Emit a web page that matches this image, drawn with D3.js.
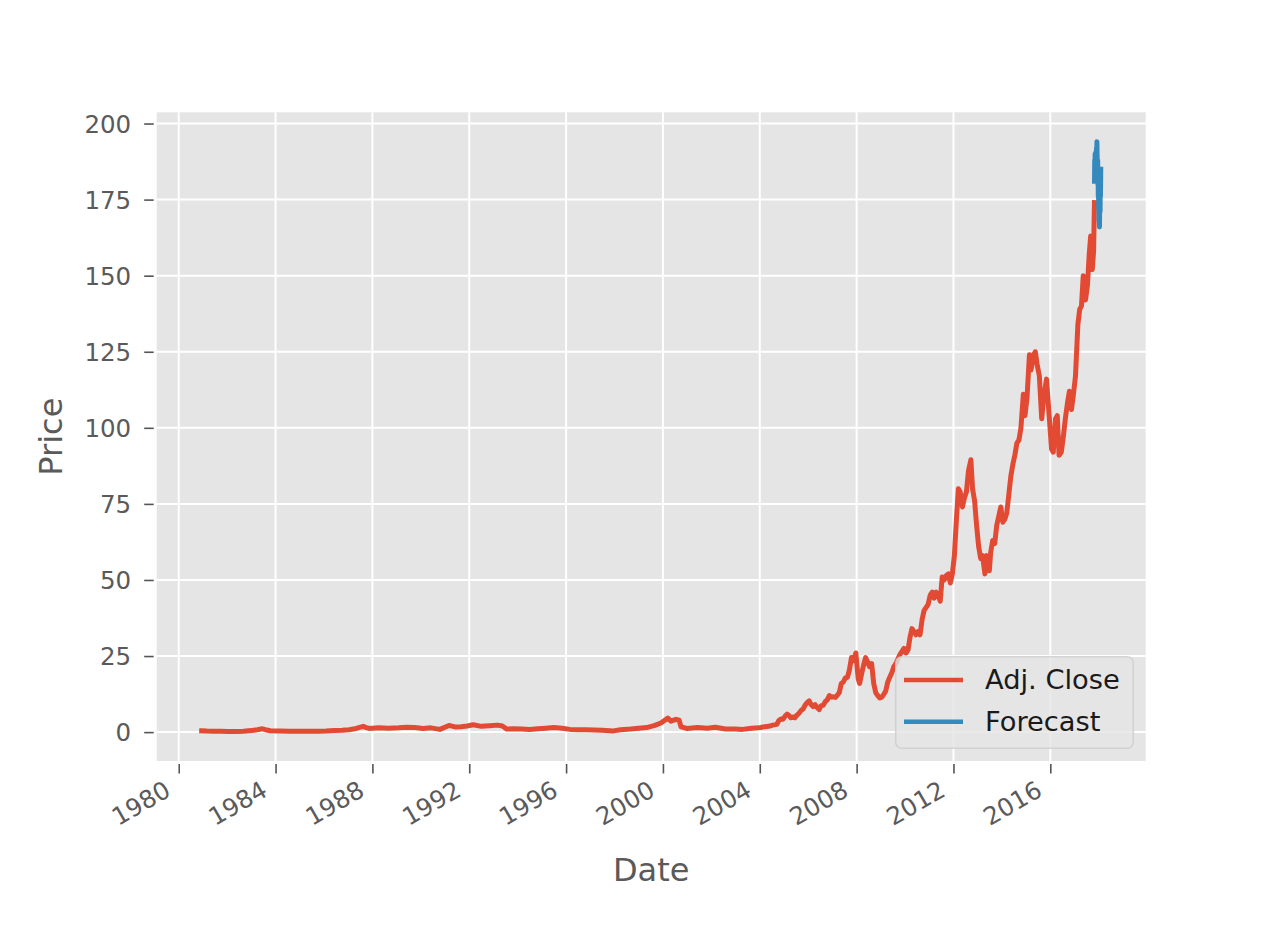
<!DOCTYPE html>
<html>
<head>
<meta charset="utf-8">
<script src="https://cdn.jsdelivr.net/npm/d3@7"></script>
<style>
  html, body { margin: 0; padding: 0; background: #ffffff; }
  svg { display: block; font-family: "DejaVu Sans", sans-serif; }
</style>
</head>
<body>
<svg id="chart" width="1268" height="950"></svg>
<script>
// ---------- data ----------
const closeDates = [
  "1980-12-12","1981-03-01","1981-06-01","1981-10-01","1982-01-15","1982-06-01","1982-09-01","1983-01-01","1983-04-01","1983-06-15","1983-08-01","1983-10-15",
  "1984-03-01","1984-08-01","1985-01-01","1985-06-01","1985-10-01","1986-02-01","1986-06-01","1986-10-01","1987-01-15","1987-05-01","1987-08-15","1987-10-01","1987-11-15",
  "1988-04-01","1988-09-01","1989-02-01","1989-06-01","1989-10-01","1990-02-01","1990-06-01","1990-10-15","1991-03-01","1991-06-01","1991-09-01","1991-12-01",
  "1992-03-01","1992-07-01","1992-11-01","1993-03-01","1993-05-15","1993-07-20","1993-11-01","1994-03-01","1994-07-01","1994-11-01","1995-03-01","1995-07-01","1995-11-01",
  "1996-03-01","1996-07-01","1996-11-01","1997-03-01","1997-07-01","1997-12-15","1998-04-01","1998-09-01","1999-01-01","1999-05-01","1999-09-01","1999-12-01",
  "2000-03-15","2000-05-01","2000-07-15","2000-09-01","2000-10-01","2001-01-01","2001-06-01","2001-11-01","2002-03-01","2002-08-01","2003-01-01","2003-04-15","2003-09-01","2003-12-01",
  "2004-01-15","2004-03-15","2004-05-15","2004-07-15","2004-09-15","2004-10-15","2004-11-15","2004-12-15",
  "2005-01-15","2005-02-15","2005-03-15","2005-04-15","2005-05-15","2005-06-15","2005-07-15","2005-08-15","2005-09-15","2005-10-15","2005-11-15","2005-12-15",
  "2006-01-15","2006-02-15","2006-03-15","2006-04-15","2006-05-15","2006-06-15","2006-07-15","2006-08-15","2006-09-15","2006-10-15","2006-11-15","2006-12-15",
  "2007-01-15","2007-02-15","2007-03-15","2007-04-15","2007-05-15","2007-06-15","2007-07-15","2007-08-15","2007-09-15","2007-10-15","2007-11-15","2007-12-20",
  "2008-01-25","2008-02-15","2008-03-15","2008-04-15","2008-05-15","2008-06-15","2008-07-15","2008-08-15","2008-09-15","2008-10-15","2008-11-15","2008-12-15",
  "2009-01-15","2009-02-15","2009-03-15","2009-04-15","2009-05-15","2009-06-15","2009-07-15","2009-08-15","2009-09-15","2009-10-15","2009-11-15","2009-12-15",
  "2010-01-15","2010-02-15","2010-03-15","2010-04-15","2010-05-15","2010-06-15","2010-07-15","2010-08-15","2010-09-15","2010-10-15","2010-11-15","2010-12-15",
  "2011-01-15","2011-02-15","2011-03-15","2011-04-15","2011-05-15","2011-06-15","2011-07-15","2011-08-15","2011-09-15","2011-10-15","2011-11-15","2011-12-15",
  "2012-01-15","2012-02-15","2012-03-15","2012-04-10","2012-05-15","2012-06-15","2012-07-15","2012-08-15","2012-09-20","2012-10-15","2012-11-15","2012-12-15",
  "2013-01-15","2013-02-15","2013-03-15","2013-04-20","2013-05-15","2013-06-25","2013-07-15","2013-08-15","2013-09-15","2013-10-15","2013-11-15","2013-12-15",
  "2014-01-15","2014-02-15","2014-03-15","2014-04-15","2014-05-15","2014-06-15","2014-07-15","2014-08-15","2014-09-15","2014-10-15","2014-11-20","2014-12-15",
  "2015-01-15","2015-02-20","2015-03-15","2015-04-25","2015-05-20","2015-06-15","2015-07-20","2015-08-24","2015-09-15","2015-10-15","2015-11-05","2015-12-15",
  "2016-01-20","2016-02-15","2016-03-20","2016-04-15","2016-05-12","2016-06-15","2016-07-15","2016-08-15","2016-09-15","2016-10-15","2016-11-15","2016-12-15",
  "2017-01-15","2017-02-20","2017-03-20","2017-04-15","2017-05-12","2017-06-15","2017-07-15","2017-08-10","2017-09-01","2017-09-25","2017-10-15","2017-10-28"
];
const closeValues = [
  0.42,0.35,0.32,0.25,0.22,0.2,0.25,0.5,0.8,1.1,0.8,0.45,
  0.35,0.3,0.3,0.25,0.3,0.35,0.5,0.6,0.8,1.2,1.9,1.5,1.2,
  1.4,1.3,1.4,1.6,1.5,1.2,1.4,0.9,2.2,1.7,1.8,2.0,
  2.4,1.9,2.1,2.3,2.0,1.0,1.1,1.0,0.9,1.1,1.3,1.5,1.3,
  0.9,0.8,0.8,0.7,0.6,0.4,0.8,1.0,1.3,1.5,2.2,3.0,
  4.6,3.6,4.2,3.9,1.7,1.2,1.5,1.3,1.6,1.0,1.0,0.9,1.3,1.4,
  1.5,1.8,1.9,2.3,2.6,3.8,4.3,4.2,
  5.2,5.9,5.5,4.7,5.0,4.7,5.6,6.2,7.1,7.6,8.9,9.7,
  10.3,9.0,8.4,9.0,8.1,7.4,8.7,8.8,10.0,10.6,12.0,11.5,
  11.6,11.4,12.1,13.0,16.0,16.5,17.8,18.0,20.5,24.5,23.5,26.0,
  17.5,16.0,19.0,22.0,24.5,23.0,21.5,22.5,16.0,13.0,12.0,11.2,
  11.5,12.5,13.5,16.5,18.0,19.5,21.5,22.5,24.0,25.5,26.5,27.5,
  26.0,27.0,31.0,34.0,33.0,32.0,33.0,32.0,37.0,40.0,41.0,42.0,
  45.0,46.0,44.0,46.0,45.0,43.0,51.0,50.0,51.5,52.0,49.0,52.0,
  58.0,70.0,80.0,79.0,74.0,77.0,79.0,86.0,89.5,80.0,76.0,68.0,
  61.0,57.0,58.0,52.0,58.0,53.0,59.0,63.0,62.0,68.0,71.0,74.0,
  69.0,70.0,72.0,78.0,84.0,88.0,91.0,95.0,96.0,100.0,111.0,104.0,
  110.0,124.0,119.0,124.0,125.0,121.0,117.0,103.0,108.0,113.0,116.0,104.0,
  93.0,92.0,103.0,104.0,91.0,92.0,97.0,103.0,108.0,112.0,106.0,111.0,
  117.0,134.0,139.0,140.0,150.0,142.0,147.0,157.0,163.0,152.0,158.0,174.0
];
const forecastDates = [
  "2017-10-29","2017-11-01","2017-11-04","2017-11-07","2017-11-10","2017-11-13","2017-11-16","2017-11-19","2017-11-22","2017-11-25","2017-11-28",
  "2017-12-01","2017-12-04","2017-12-07","2017-12-10","2017-12-13","2017-12-16","2017-12-19","2017-12-22","2017-12-25","2017-12-28","2017-12-31",
  "2018-01-03","2018-01-06","2018-01-09","2018-01-12","2018-01-15","2018-01-18","2018-01-21","2018-01-24","2018-01-27","2018-01-31"
];
const forecastValues = [
  181,188,184,190,186,183,189,185,191,187,192,
  188,194,190,185,183,188,180,184,176,181,172,
  178,168,175,166,174,179,171,182,176,185
];
const xTickYears = [1980,1984,1988,1992,1996,2000,2004,2008,2012,2016];
const yTickValues = [0,25,50,75,100,125,150,175,200];
const seriesNames = ["Adj. Close","Forecast"];
const seriesColors = ["#E24A33","#348ABD"];

// ---------- layout ----------
const plot = {left: 156.7, right: 1145.7, top: 112.3, bottom: 761};
const parse = d3.timeParse("%Y-%m-%d");
const closeData = closeDates.map((d,i) => ({date: parse(d), value: closeValues[i]}));
const forecastData = forecastDates.map((d,i) => ({date: parse(d), value: forecastValues[i]}));
const all = closeData.concat(forecastData);

const [tMin, tMax] = d3.extent(all, d => d.date);
const tPad = (tMax - tMin) * 0.05;
const x = d3.scaleTime()
  .domain([new Date(+tMin - tPad), new Date(+tMax + tPad)])
  .range([plot.left, plot.right]);
const [vMin, vMax] = d3.extent(all, d => d.value);
const vPad = (vMax - vMin) * 0.05;
const y = d3.scaleLinear()
  .domain([vMin - vPad, vMax + vPad])
  .range([plot.bottom, plot.top]);

const svg = d3.select("#chart");

// background
svg.append("rect")
  .attr("x", plot.left).attr("y", plot.top)
  .attr("width", plot.right - plot.left).attr("height", plot.bottom - plot.top)
  .attr("fill", "#E5E5E5");

const xTicks = xTickYears.map(yr => new Date(yr, 0, 1));

// grid
const grid = svg.append("g");
grid.selectAll("line.vx").data(xTicks).join("line")
  .attr("x1", d => x(d)).attr("x2", d => x(d))
  .attr("y1", plot.top).attr("y2", plot.bottom)
  .attr("stroke", "#ffffff").attr("stroke-width", 2);
grid.selectAll("line.hy").data(yTickValues).join("line")
  .attr("x1", plot.left).attr("x2", plot.right)
  .attr("y1", d => y(d)).attr("y2", d => y(d))
  .attr("stroke", "#ffffff").attr("stroke-width", 2);

// axes via d3 axis generators
const xAxis = d3.axisBottom(x).tickValues(xTicks).tickSize(9.5).tickPadding(6)
  .tickFormat(d3.timeFormat("%Y"));
const gx = svg.append("g").attr("transform", `translate(0,${plot.bottom + 3})`).call(xAxis);
gx.select(".domain").remove();
gx.selectAll(".tick line").attr("stroke", "#555555").attr("stroke-width", 1.6);
gx.selectAll(".tick text")
  .attr("fill", "#5a5a5a")
  .attr("font-size", "24.5px")
  .attr("font-family", "DejaVu Sans, sans-serif")
  .attr("text-anchor", "end")
  .attr("x", -7).attr("y", 31).attr("dy", 0)
  .attr("transform", "rotate(-30, -7, 31)");

const yAxis = d3.axisLeft(y).tickValues(yTickValues).tickSize(9.5).tickPadding(13)
  .tickFormat(d3.format("d"));
const gy = svg.append("g").attr("transform", `translate(${plot.left - 3},0)`).call(yAxis);
gy.select(".domain").remove();
gy.selectAll(".tick line").attr("stroke", "#555555").attr("stroke-width", 1.6);
gy.selectAll(".tick text")
  .attr("fill", "#5a5a5a")
  .attr("font-size", "24.5px")
  .attr("font-family", "DejaVu Sans, sans-serif")
  .attr("dy", "0.36em");

// lines
const line = d3.line().x(d => x(d.date)).y(d => y(d.value));
const lines = svg.append("g");
lines.append("path").datum(closeData)
  .attr("d", line).attr("fill", "none")
  .attr("stroke", seriesColors[0]).attr("stroke-width", 5)
  .attr("stroke-linejoin", "round").attr("stroke-linecap", "square");
lines.append("path").datum(forecastData)
  .attr("d", line).attr("fill", "none")
  .attr("stroke", seriesColors[1]).attr("stroke-width", 5)
  .attr("stroke-linejoin", "round").attr("stroke-linecap", "square");

// axis labels
svg.append("text")
  .attr("x", (plot.left + plot.right) / 2).attr("y", 881)
  .attr("text-anchor", "middle").attr("font-size", "32px").attr("fill", "#5a5a5a")
  .text("Date");
svg.append("text")
  .attr("transform", `translate(62,${(plot.top + plot.bottom) / 2}) rotate(-90)`)
  .attr("text-anchor", "middle").attr("font-size", "32px").attr("fill", "#5a5a5a")
  .text("Price");

// legend
const lg = svg.append("g");
lg.append("rect")
  .attr("x", 895.7).attr("y", 656.7).attr("width", 237.6).attr("height", 91.6)
  .attr("rx", 6).attr("ry", 6)
  .attr("fill", "#E5E5E5").attr("fill-opacity", 0.8)
  .attr("stroke", "#cccccc").attr("stroke-opacity", 0.8).attr("stroke-width", 1.5);
seriesNames.forEach((name, i) => {
  const ly = 680 + i * 41.7;
  lg.append("line")
    .attr("x1", 904).attr("x2", 963).attr("y1", ly).attr("y2", ly)
    .attr("stroke", seriesColors[i]).attr("stroke-width", 4.5);
  lg.append("text")
    .attr("x", 985).attr("y", ly + 9.3)
    .attr("font-size", "27.3px").attr("fill", "#1a1a1a")
    .text(name);
});
</script>
</body>
</html>
